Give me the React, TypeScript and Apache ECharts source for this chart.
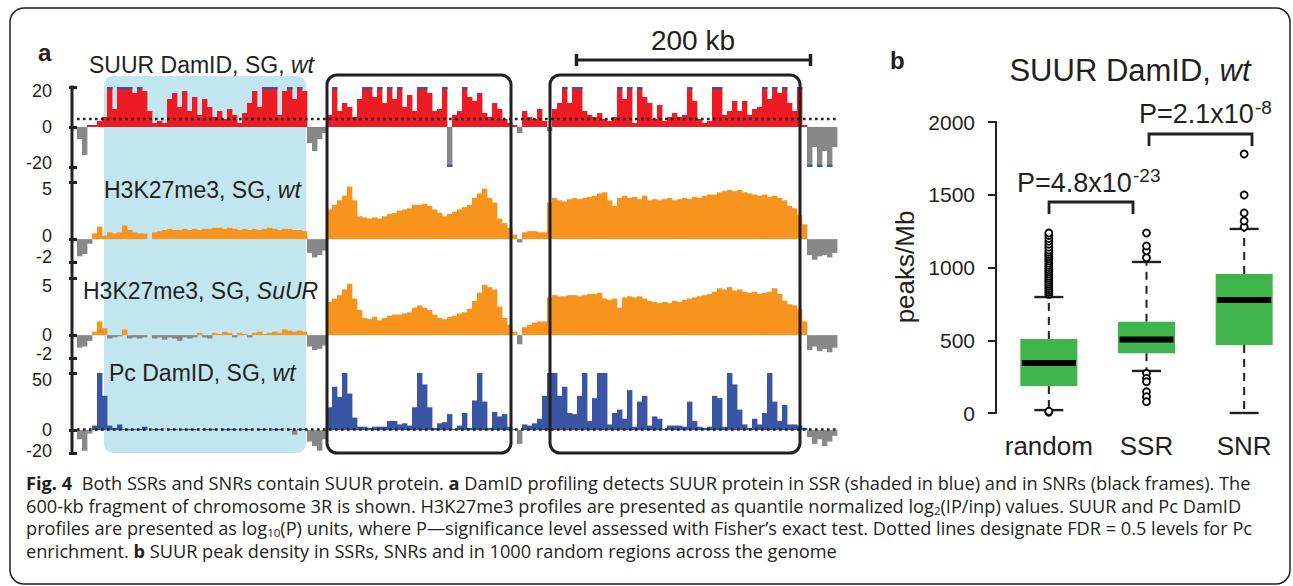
import React, { useEffect, useRef } from "react";
import * as echarts from "echarts";

// ---------- Panel a: genomic tracks (bins of equal width along the 600-kb fragment) ----------
const binCount = 152;

const suurWt = [
  -6, -14, 1, 1, 3, 5, 20, 9, 20, 20,
  20, 17, 20, 18, 8, 2, 3, 2, 14, 17,
  10, 18, 8, 15, 6, 14, 10, 5, 8, 4,
  9, 6, 2, 7, 12, 18, 10, 20, 20, 20,
  6, 18, 20, 14, 20, 18, -8, -12, -6, -3,
  6, 20, 8, 12, 10, 5, 14, 20, 20, 15,
  20, 12, 20, 14, 20, 10, 16, 8, 20, 20,
  17, 8, 9, 20, -20, 6, 8, 20, 15, 13,
  17, 7, 5, 12, 9, 4, 2, 1, -3, 8,
  5, 4, 9, 3, -2, 9, 12, 20, 12, 20,
  20, 8, 6, 5, 7, 4, 3, 5, 20, 14,
  20, 2, 20, 15, 12, 4, 11, 3, 5, 7,
  5, 6, 20, 13, 4, 2, 3, 20, 20, 6,
  8, 13, 8, 13, 6, 9, 10, 20, 14, 20,
  17, 20, 12, 8, 20, 1, -20, -10, -20, -12,
  -20, -10,
];

const h3k27Wt = [
  -1.5, -1.3, -0.4, 0.5, 1.1, 0.3, 0.6, 0.5, 0.6, 1.2,
  0.8, 0.6, 0.5, 0.5, 0, 0.6, 0.7, 0.8, 0.9, 0.8,
  0.8, 0.9, 0.8, 0.9, 0.8, 0.9, 0.9, 1.0, 1.0, 0.9,
  1.0, 0.9, 0.8, 0.9, 0.8, 0.9, 0.8, 0.9, 1.0, 0.9,
  0.8, 0.9, 0.9, 0.8, 0.8, 0.7, -1.2, -1.6, -1.4, -1.0,
  2.6, 3.0, 3.4, 3.8, 4.6, 3.4, 2.0, 1.9, 1.8, 1.9,
  1.8, 2.0, 2.2, 2.3, 2.5, 2.6, 2.7, 3.0, 3.0, 3.1,
  2.9, 2.6, 2.3, 2.0, 2.2, 2.4, 2.6, 2.8, 3.0, 3.6,
  4.0, 4.4, 3.6, 3.2, 1.8, 1.4, 1.0, 0.4, -0.3, 0.6,
  0.7, 0.7, 0.6, 0.6, 3.2, 3.6, 3.4, 3.3, 3.5, 3.6,
  3.5, 3.6, 3.7, 3.8, 4.0, 4.1, 3.4, 2.9, 3.6, 3.8,
  3.6, 3.7, 3.5, 3.8, 3.4, 3.5, 3.4, 3.5, 3.6, 3.4,
  3.5, 3.6, 3.5, 3.7, 3.6, 3.8, 3.9, 3.9, 4.1, 4.2,
  4.3, 4.2, 4.3, 4.1, 4.0, 3.9, 3.8, 3.9, 3.7, 3.8,
  3.6, 3.4, 2.9, 2.7, 2.1, 1.3, -1.4, -1.8, -1.5, -1.4,
  -1.6, -1.2,
];

const h3k27SuUR = [
  -1.1, -1.0, -0.5, 0.3, 1.2, 0.6, -0.3, -0.2, -0.1, 0.5,
  -0.3, -0.2, -0.3, -0.2, 0, -0.3, -0.2, -0.4, -0.2, -0.3,
  -0.5, -0.2, -0.3, -0.2, 0.2, -0.2, -0.3, 0.2, 0.1, 0.3,
  0.2, -0.2, 0.2, 0.1, -0.2, 0.2, 0.3, 0.1, 0.2, 0.3,
  0.2, 0.5, 0.4, 0.3, 0.4, 0.3, -1.0, -1.3, -1.2, -0.9,
  2.9, 3.2, 3.5, 4.0, 4.5, 3.2, 2.2, 1.5, 1.4, 1.6,
  1.3, 1.5, 1.7, 1.8, 1.8, 1.9, 2.0, 2.4, 2.6, 2.4,
  2.2, 1.8, 1.5, 1.4, 1.6, 1.7, 1.9, 2.0, 2.3, 3.0,
  3.7, 4.4, 4.2, 4.0, 2.5, 1.5, 0.9, 0.3, -0.8, 0.7,
  0.9, 1.1, 1.2, 1.2, 3.3, 3.5, 3.4, 3.4, 3.5, 3.5,
  3.4, 3.5, 3.6, 3.6, 3.7, 3.2, 3.1, 3.2, 2.4, 3.3,
  3.4, 3.3, 3.4, 3.2, 3.0, 2.9, 2.8, 2.9, 2.8, 3.0,
  2.9, 3.1, 3.2, 3.3, 3.4, 3.5, 3.6, 3.8, 4.1, 4.0,
  4.2, 3.9, 4.0, 3.8, 3.7, 3.8, 3.6, 3.7, 3.8, 4.1,
  3.6, 3.0, 2.7, 2.6, 2.3, 1.2, -1.3, -1.0, -1.4, -1.2,
  -1.5, -1.1,
];

const pcWt = [
  -8, -18, -3, 4, 50, 30, 4, 2, 5, 1,
  1, 1, 1, 3, 0, 1, 1, 0, 1, 1,
  0, 1, 1, 1, 0, 1, 1, 1, 0, 1,
  1, 1, 0, 1, 1, 0, 1, 1, 0, 1,
  1, 0, 1, -4, 1, 1, -10, -14, -18, -8,
  20, 38, 29, 50, 32, 11, 3, 3, 2, 3,
  3, 3, 8, 8, 5, 6, 4, 20, 50, 40,
  20, 2, 6, 7, 14, 1, 4, 15, 2, 26,
  50, 25, 2, 16, 12, 14, 3, 1, -12, 5,
  4, 6, 10, 30, 50, 50, 30, 38, 15, 14,
  30, 50, 8, 28, 50, 50, 5, 15, 18, 10,
  35, 3, 25, 30, 4, 12, 10, 1, 4, 4,
  4, 3, 25, 8, 3, 2, 3, 30, 28, 3,
  50, 40, 18, 5, 2, 10, 5, 15, 50, 25,
  8, 22, 5, 5, 4, 2, -6, -12, -8, -14,
  -10, -5,
];

const fdrSuur = 4;
const fdrPc = 0.5;
const suurClip = 20;

const ticksSuur = [-20, 0, 20];
const ticksH3wt = [-2, 0, 5];
const ticksH3su = [-2, 0, 5];
const ticksPc = [-20, 0, 50];

// ---------- Panel b: boxplot ----------
const categories = ["random", "SSR", "SNR"];
const boxLow = [20, 289, 0];
const boxQ1 = [186, 410, 467];
const boxMedian = [344, 506, 777];
const boxQ3 = [508, 627, 955];
const boxHigh = [797, 1038, 1265];
const outliersRandom = [
  5, 12, 815, 828, 842, 856, 870, 884, 898, 912, 926, 940, 955, 970, 985, 1000,
  1015, 1030, 1045, 1060, 1075, 1090, 1105, 1120, 1140, 1160, 1180, 1200, 1220, 1237,
];
const outliersSSR = [1067, 1115, 1148, 1237, 273, 238, 215, 146, 112, 78];
const outliersSNR = [1278, 1320, 1375, 1498, 1780];

// ---------- styling ----------
const DARK = "#231f20";
const GREY = "#888888";
const RED = "#ed1c24";
const ORANGE = "#f7941e";
const PCBLUE = "#3b55a5";
const CAPBLUE = "#3b55a5";
const GREEN = "#3fb54b";
const SHADE = "#c2e6ef";
const FONT = "'Liberation Sans', Arial, sans-serif";
const CFONT = "'Open Sans', 'Noto Sans', sans-serif";

const makeBar = (color: string, limit: number | null) => (params: any, api: any) => {
  const i = api.value(0) as number;
  const v = api.value(1) as number;
  const a = api.coord([i, 0]);
  const b = api.coord([i + 1, v]);
  const x = a[0];
  const w = b[0] - a[0] + 0.4;
  const y = Math.min(a[1], b[1]);
  const h = Math.abs(b[1] - a[1]);
  const children: any[] = [
    { type: "rect", shape: { x, y, width: w, height: h }, style: { fill: v >= 0 ? color : GREY } },
  ];
  if (limit !== null && Math.abs(v) >= limit) {
    children.push({
      type: "rect",
      shape: { x, y: v > 0 ? b[1] : b[1] - 2.2, width: w, height: 2.2 },
      style: { fill: CAPBLUE },
    });
  }
  return { type: "group", children };
};

// label nudges (px, positive = down) for each tick label, in tick order
const tracks = [
  { data: suurWt, color: RED, limit: suurClip as number | null, min: -20, max: 20, ticks: ticksSuur, top: 87, nudge: [-4.5, 0, 4] },
  { data: h3k27Wt, color: ORANGE, limit: null, min: -2, max: 5, ticks: ticksH3wt, top: 182, nudge: [-5, -3, 7] },
  { data: h3k27SuUR, color: ORANGE, limit: null, min: -2, max: 5, ticks: ticksH3su, top: 278, nudge: [-4, 0, 8] },
  { data: pcWt, color: PCBLUE, limit: null, min: -20, max: 50, ticks: ticksPc, top: 373, nudge: [-2, 0, 7] },
];

const richTxt = (x: number, y: number, text: string, size: number, align = "left", z = 20) => ({
  type: "text",
  x,
  y,
  z,
  style: {
    text,
    fontSize: size,
    fontFamily: FONT,
    fill: DARK,
    align,
    verticalAlign: "middle",
    rich: {
      n: { fontSize: size, fontFamily: FONT, fill: DARK },
      i: { fontSize: size, fontFamily: FONT, fill: DARK, fontStyle: "italic" },
    },
  },
});

const CS = 18.2;
const capRich = {
  b: { fontSize: CS, fontFamily: CFONT, fontWeight: "bold", fill: DARK },
  bf: { fontSize: CS, fontFamily: CFONT, fontWeight: "bold", fill: DARK, padding: [0, 5, 0, 0] },
  s: { fontSize: 11.5, fontFamily: CFONT, fill: DARK, verticalAlign: "bottom", lineHeight: 11 },
};
const capLine = (y: number, text: string) => ({
  type: "text",
  x: 26,
  y,
  z: 20,
  style: {
    text,
    fontSize: CS,
    fontFamily: CFONT,
    fill: DARK,
    lineHeight: 21,
    align: "left",
    verticalAlign: "middle",
    rich: capRich,
  },
});

function buildOption(): any {
  const grids: any[] = tracks.map((t) => ({ left: 77, top: t.top, width: 760, height: 80 }));
  grids.push({ left: 1000, top: 122, width: 300, height: 291 });

  const xAxes: any[] = tracks.map((t, k) => ({
    gridIndex: k,
    type: "value",
    min: 0,
    max: binCount,
    show: false,
  }));
  xAxes.push({
    gridIndex: 4,
    type: "category",
    data: categories,
    axisLine: { show: false },
    axisTick: { show: false },
    axisLabel: { interval: 0, fontSize: 26, fontFamily: FONT, color: DARK, margin: 20 },
  });

  const yAxes: any[] = tracks.map((t, k) => {
    const rich: any = {};
    t.nudge.forEach((d, j) => {
      rich["s" + j] = {
        fontSize: 18,
        fontFamily: FONT,
        color: DARK,
        padding: d >= 0 ? [2 * d, 0, 0, 0] : [0, 0, -2 * d, 0],
      };
    });
    return {
      gridIndex: k,
      type: "value",
      min: t.min,
      max: t.max,
      offset: 5,
      axisLine: { show: false },
      axisTick: { show: true, length: 8, customValues: t.ticks, lineStyle: { color: DARK, width: 3 } },
      axisLabel: {
        customValues: t.ticks,
        fontSize: 18,
        fontFamily: FONT,
        color: DARK,
        margin: 20,
        formatter: (v: number) => {
          const j = t.ticks.indexOf(v);
          return j >= 0 ? `{s${j}|${v}}` : String(v);
        },
        rich,
      },
      splitLine: { show: false },
    };
  });
  yAxes.push({
    gridIndex: 4,
    type: "value",
    min: 0,
    max: 2000,
    interval: 500,
    offset: 4,
    axisLine: { show: true, lineStyle: { color: DARK, width: 2 } },
    axisTick: { show: true, length: 8, lineStyle: { color: DARK, width: 2 } },
    axisLabel: { fontSize: 21, fontFamily: FONT, color: DARK, margin: 21, formatter: (v: number) => String(v) },
    splitLine: { show: false },
  });

  const series: any[] = tracks.map((t, k) => ({
    type: "custom",
    xAxisIndex: k,
    yAxisIndex: k,
    silent: true,
    z: 2,
    data: t.data.map((v, i) => [i, v]),
    renderItem: makeBar(t.color, t.limit),
  }));
  series.push({
    type: "line",
    xAxisIndex: 0,
    yAxisIndex: 0,
    silent: true,
    z: 5,
    symbol: "none",
    data: [[0, fdrSuur], [binCount, fdrSuur]],
    lineStyle: { color: DARK, width: 2.6, type: [2.6, 3.4] },
  });
  series.push({
    type: "line",
    xAxisIndex: 3,
    yAxisIndex: 3,
    silent: true,
    z: 5,
    symbol: "none",
    data: [[0, fdrPc], [binCount, fdrPc]],
    lineStyle: { color: DARK, width: 2.6, type: [2.6, 3.4] },
  });
  series.push({
    type: "custom",
    xAxisIndex: 4,
    yAxisIndex: 4,
    silent: true,
    z: 3,
    data: categories.map((c, i) => [i, boxLow[i], boxQ1[i], boxMedian[i], boxQ3[i], boxHigh[i]]),
    renderItem: (params: any, api: any) => {
      const i = api.value(0);
      const lo = api.coord([i, api.value(1)]);
      const q1 = api.coord([i, api.value(2)]);
      const md = api.coord([i, api.value(3)]);
      const q3 = api.coord([i, api.value(4)]);
      const hi = api.coord([i, api.value(5)]);
      const cx = md[0];
      const hw = 28.5;
      const cw = 14.5;
      const mw = 27;
      const dash = { stroke: DARK, lineWidth: 2, lineDash: [8, 6] };
      return {
        type: "group",
        children: [
          { type: "line", shape: { x1: cx, y1: q3[1], x2: cx, y2: hi[1] }, style: dash },
          { type: "line", shape: { x1: cx, y1: q1[1], x2: cx, y2: lo[1] }, style: dash },
          { type: "line", shape: { x1: cx - cw, y1: hi[1], x2: cx + cw, y2: hi[1] }, style: { stroke: DARK, lineWidth: 2.4 } },
          { type: "line", shape: { x1: cx - cw, y1: lo[1], x2: cx + cw, y2: lo[1] }, style: { stroke: DARK, lineWidth: 2.4 } },
          { type: "rect", shape: { x: cx - hw, y: q3[1], width: 2 * hw, height: q1[1] - q3[1] }, style: { fill: GREEN } },
          { type: "rect", shape: { x: cx - mw, y: md[1] - 3, width: 2 * mw, height: 6 }, style: { fill: "#000" } },
        ],
      };
    },
  });
  series.push({
    type: "scatter",
    xAxisIndex: 4,
    yAxisIndex: 4,
    silent: true,
    z: 6,
    symbol: "circle",
    symbolSize: 7,
    itemStyle: { color: "#ffffff", borderColor: "#000000", borderWidth: 1.8, opacity: 1 },
    data: [
      ...outliersRandom.map((v) => [0, v]),
      ...outliersSSR.map((v) => [1, v]),
      ...outliersSNR.map((v) => [2, v]),
    ],
  });

  const graphic: any[] = [
    // outer frame
    { type: "rect", z: 0, shape: { x: 10, y: 8, width: 1280, height: 576, r: 14 }, style: { fill: "none", stroke: DARK, lineWidth: 1.5 } },
    // SSR shading
    { type: "rect", z: 0, shape: { x: 104, y: 76, width: 202, height: 377, r: 9 }, style: { fill: SHADE } },
    // SNR frames
    { type: "rect", z: 10, shape: { x: 327, y: 75, width: 184, height: 378, r: 10 }, style: { fill: "none", stroke: DARK, lineWidth: 3 } },
    { type: "rect", z: 10, shape: { x: 550, y: 75, width: 250, height: 378, r: 10 }, style: { fill: "none", stroke: DARK, lineWidth: 3 } },
    // continuous y axis of panel a
    { type: "line", z: 10, shape: { x1: 72, y1: 85.5, x2: 72, y2: 454.5 }, style: { stroke: DARK, lineWidth: 3 } },
    // scale bar
    { type: "line", z: 10, shape: { x1: 575, y1: 60, x2: 812, y2: 60 }, style: { stroke: DARK, lineWidth: 3 } },
    { type: "line", z: 10, shape: { x1: 576.5, y1: 54, x2: 576.5, y2: 66 }, style: { stroke: DARK, lineWidth: 3.5 } },
    { type: "line", z: 10, shape: { x1: 810.5, y1: 54, x2: 810.5, y2: 66 }, style: { stroke: DARK, lineWidth: 3.5 } },
    richTxt(693, 40, "200 kb", 28, "center"),
    // panel labels
    { type: "text", x: 38, y: 52, z: 20, style: { text: "a", fontSize: 24, fontWeight: "bold", fontFamily: FONT, fill: DARK, verticalAlign: "middle" } },
    { type: "text", x: 890, y: 60, z: 20, style: { text: "b", fontSize: 24, fontWeight: "bold", fontFamily: FONT, fill: DARK, verticalAlign: "middle" } },
    // track labels
    richTxt(89, 65, "{n|SUUR DamID, SG, }{i|wt}", 23),
    richTxt(104, 190, "{n|H3K27me3, SG, }{i|wt}", 23),
    richTxt(83, 291, "{n|H3K27me3, SG, }{i|SuUR}", 23),
    richTxt(109, 373, "{n|Pc DamID, SG, }{i|wt}", 23),
    // panel b annotations
    richTxt(1130, 70, "{n|SUUR DamID, }{i|wt}", 31, "center"),
    { type: "text", x: 905, y: 267, z: 20, rotation: Math.PI / 2, style: { text: "peaks/Mb", fontSize: 26, fontFamily: FONT, fill: DARK, align: "center", verticalAlign: "middle" } },
    { type: "polyline", z: 10, shape: { points: [[1049, 214], [1049, 202], [1133, 202], [1133, 214]] }, style: { fill: "none", stroke: DARK, lineWidth: 2.8 } },
    { type: "polyline", z: 10, shape: { points: [[1149, 146], [1149, 134], [1252, 134], [1252, 146]] }, style: { fill: "none", stroke: DARK, lineWidth: 2.8 } },
    richTxt(1017, 182.5, "P=4.8x10", 27),
    richTxt(1133, 175, "-23", 19),
    richTxt(1139, 113.5, "P=2.1x10", 27),
    richTxt(1255, 107, "-8", 19),
    // caption
    capLine(483, "{bf|Fig. 4} Both SSRs and SNRs contain SUUR protein. {b|a} DamID profiling detects SUUR protein in SSR (shaded in blue) and in SNRs (black frames). The"),
    capLine(505.5, "600-kb fragment of chromosome 3R is shown. H3K27me3 profiles are presented as quantile normalized log{s|2}(IP/inp) values. SUUR and Pc DamID"),
    capLine(528, "profiles are presented as log{s|10}(P) units, where P\u2014significance level assessed with Fisher\u2019s exact test. Dotted lines designate FDR = 0.5 levels for Pc"),
    capLine(550.5, "enrichment. {b|b} SUUR peak density in SSRs, SNRs and in 1000 random regions across the genome"),
  ];

  return {
    animation: false,
    backgroundColor: "#ffffff",
    grid: grids,
    xAxis: xAxes,
    yAxis: yAxes,
    series,
    graphic,
  };
}

export default function App() {
  const ref = useRef<HTMLDivElement>(null);
  useEffect(() => {
    document.body.style.margin = "0";
    if (!ref.current) return;
    const chart = echarts.init(ref.current, undefined, { renderer: "svg" });
    chart.setOption(buildOption());
    return () => chart.dispose();
  }, []);
  return (
    <div
      ref={ref}
      style={{ position: "absolute", left: 0, top: 0, width: 1293, height: 586, background: "#fff" }}
    />
  );
}
